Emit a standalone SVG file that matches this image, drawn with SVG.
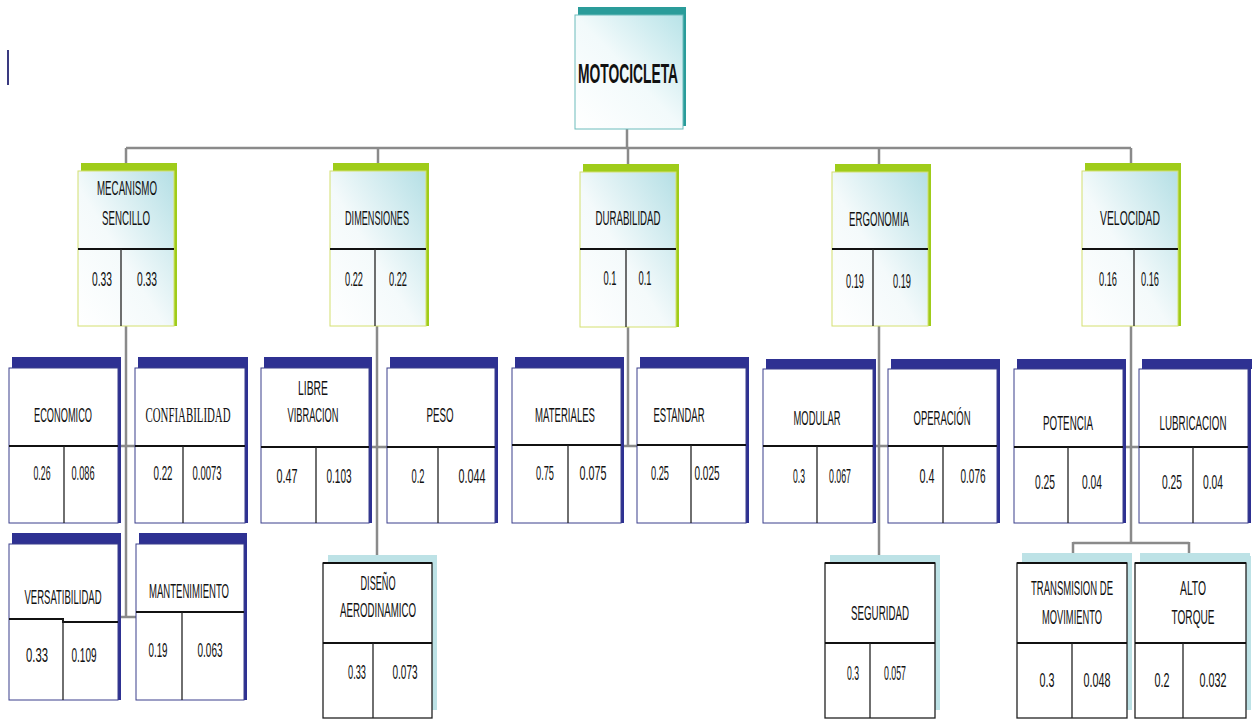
<svg xmlns="http://www.w3.org/2000/svg" width="1252" height="719" viewBox="0 0 1252 719">
<defs>
<linearGradient id="gTop" x1="0" y1="1" x2="1" y2="0">
<stop offset="0" stop-color="#ffffff"/><stop offset="0.5" stop-color="#f2fafb"/><stop offset="1" stop-color="#b8e3e8"/>
</linearGradient>
<linearGradient id="g2" x1="0" y1="1" x2="1" y2="0">
<stop offset="0" stop-color="#ffffff"/><stop offset="0.45" stop-color="#f4fafb"/><stop offset="1" stop-color="#b4dfe5"/>
</linearGradient>
<style>
.t{font-family:"Liberation Sans",Arial,sans-serif;font-size:20px;text-anchor:middle;fill:#111}
.ts{font-family:"Liberation Serif","Times New Roman",serif;font-size:20px;text-anchor:middle;fill:#111}
.tb{font-family:"Liberation Sans",Arial,sans-serif;font-size:28px;font-weight:bold;text-anchor:middle;fill:#111}
.l2{fill:url(#g2);stroke:#d4e070;stroke-width:1}
.gbar{fill:#9fcc1a}
.nbar{fill:#2e3192}
.tbar{fill:#bde2e6}
.b3{fill:#fff;stroke:#3b3f8c;stroke-width:1}
.b4{fill:#fff;stroke:#222;stroke-width:1.3}
.hd{stroke:#111;stroke-width:2;fill:none}
.vd{stroke:#222;stroke-width:1.3}
.conn{stroke:#8a8a8a;stroke-width:2.5;fill:none}
</style>
</defs>
<rect width="1252" height="719" fill="#fff"/>
<rect x="7" y="50" width="2" height="35" fill="#3a3a80"/>

<g id="connectors">
<path class="conn" d="M627 129 V148 M126 148 H1131 M126 148 V165 M378 148 V165 M628 148 V165 M879 148 V165 M1131 148 V165"/>
<path class="conn" d="M126 326 V617 M121 446 H135 M121 617 H136"/>
<path class="conn" d="M377 326 V555 M369 447 H387"/>
<path class="conn" d="M628 327 V446 M621 446 H637"/>
<path class="conn" d="M879 326 V555 M873 446 H888"/>
<path class="conn" d="M1131 326 V543 M1123 447 H1139 M1073 543 H1189 M1073 542 V555 M1189 542 V555"/>
</g>

<g id="n-motocicleta">
<rect x="578" y="7" width="108" height="9" fill="#2a9c9a"/>
<rect x="683" y="10" width="3" height="116" fill="#2a9c9a"/>
<rect x="575" y="15" width="108" height="114" fill="url(#gTop)" stroke="#6cbcbc" stroke-width="1"/>
<text class="tb" transform="translate(628 83) scale(0.55 1)" textLength="182" lengthAdjust="spacingAndGlyphs">MOTOCICLETA</text>
</g>

<!-- level 2 -->
<g id="n-mecanismo">
<rect class="gbar" x="81" y="163" width="96" height="9"/>
<rect class="gbar" x="174" y="166" width="3" height="160"/>
<rect class="l2" x="78" y="171" width="96" height="155"/>
<line class="hd" x1="78" y1="249" x2="174" y2="249"/>
<line class="vd" x1="121" y1="249" x2="121" y2="326"/>
<text class="t" transform="translate(127 195) scale(0.5 1)" textLength="120" lengthAdjust="spacingAndGlyphs">MECANISMO</text>
<text class="t" transform="translate(126 225) scale(0.5 1)" textLength="96" lengthAdjust="spacingAndGlyphs">SENCILLO</text>
<text class="t" transform="translate(102 286) scale(0.5 1)" textLength="40" lengthAdjust="spacingAndGlyphs">0.33</text>
<text class="t" transform="translate(147 286) scale(0.5 1)" textLength="40" lengthAdjust="spacingAndGlyphs">0.33</text>
</g>
<g id="n-dimensiones">
<rect class="gbar" x="333" y="163" width="96" height="9"/>
<rect class="gbar" x="426" y="166" width="3" height="160"/>
<rect class="l2" x="330" y="171" width="96" height="155"/>
<line class="hd" x1="330" y1="249" x2="426" y2="249"/>
<line class="vd" x1="375" y1="249" x2="375" y2="326"/>
<text class="t" transform="translate(377 225) scale(0.5 1)" textLength="128" lengthAdjust="spacingAndGlyphs">DIMENSIONES</text>
<text class="t" transform="translate(354 286) scale(0.5 1)" textLength="36" lengthAdjust="spacingAndGlyphs">0.22</text>
<text class="t" transform="translate(398 286) scale(0.5 1)" textLength="36" lengthAdjust="spacingAndGlyphs">0.22</text>
</g>
<g id="n-durabilidad">
<rect class="gbar" x="583" y="164" width="96" height="9"/>
<rect class="gbar" x="676" y="167" width="3" height="160"/>
<rect class="l2" x="580" y="172" width="96" height="155"/>
<line class="hd" x1="580" y1="249" x2="676" y2="249"/>
<line class="vd" x1="626" y1="249" x2="626" y2="327"/>
<text class="t" transform="translate(628 225) scale(0.5 1)" textLength="130" lengthAdjust="spacingAndGlyphs">DURABILIDAD</text>
<text class="t" transform="translate(610 285) scale(0.5 1)" textLength="26" lengthAdjust="spacingAndGlyphs">0.1</text>
<text class="t" transform="translate(645 285) scale(0.5 1)" textLength="26" lengthAdjust="spacingAndGlyphs">0.1</text>
</g>
<g id="n-ergonomia">
<rect class="gbar" x="835" y="164" width="96" height="9"/>
<rect class="gbar" x="928" y="167" width="3" height="159"/>
<rect class="l2" x="832" y="172" width="96" height="154"/>
<line class="hd" x1="832" y1="249" x2="928" y2="249"/>
<line class="vd" x1="873" y1="249" x2="873" y2="326"/>
<text class="t" transform="translate(879 226) scale(0.5 1)" textLength="120" lengthAdjust="spacingAndGlyphs">ERGONOMIA</text>
<text class="t" transform="translate(855 288) scale(0.5 1)" textLength="36" lengthAdjust="spacingAndGlyphs">0.19</text>
<text class="t" transform="translate(902 288) scale(0.5 1)" textLength="36" lengthAdjust="spacingAndGlyphs">0.19</text>
</g>
<g id="n-velocidad">
<rect class="gbar" x="1085" y="163" width="96" height="9"/>
<rect class="gbar" x="1178" y="166" width="3" height="160"/>
<rect class="l2" x="1082" y="171" width="96" height="155"/>
<line class="hd" x1="1082" y1="249" x2="1178" y2="249"/>
<line class="vd" x1="1134" y1="249" x2="1134" y2="326"/>
<text class="t" transform="translate(1130 225) scale(0.5 1)" textLength="120" lengthAdjust="spacingAndGlyphs">VELOCIDAD</text>
<text class="t" transform="translate(1108 286) scale(0.5 1)" textLength="36" lengthAdjust="spacingAndGlyphs">0.16</text>
<text class="t" transform="translate(1150 286) scale(0.5 1)" textLength="36" lengthAdjust="spacingAndGlyphs">0.16</text>
</g>

<!-- level 3 -->
<g id="n-economico">
<rect class="nbar" x="12" y="357" width="109" height="11"/>
<rect class="nbar" x="118" y="360" width="3" height="163"/>
<rect class="b3" x="9" y="368" width="109" height="155"/>
<line class="hd" x1="9" y1="446" x2="118" y2="446"/>
<line class="vd" x1="64" y1="446" x2="64" y2="523"/>
<text class="t" transform="translate(63 422) scale(0.5 1)" textLength="116" lengthAdjust="spacingAndGlyphs">ECONOMICO</text>
<text class="t" transform="translate(42 480) scale(0.5 1)" textLength="34" lengthAdjust="spacingAndGlyphs">0.26</text>
<text class="t" transform="translate(83 480) scale(0.5 1)" textLength="46" lengthAdjust="spacingAndGlyphs">0.086</text>
</g>
<g id="n-confiabilidad">
<rect class="nbar" x="138" y="357" width="110" height="11"/>
<rect class="nbar" x="245" y="360" width="3" height="163"/>
<rect class="b3" x="135" y="368" width="110" height="155"/>
<line class="hd" x1="135" y1="446" x2="245" y2="446"/>
<line class="vd" x1="183" y1="446" x2="183" y2="523"/>
<text class="ts" transform="translate(188 422) scale(0.5 1)" textLength="170" lengthAdjust="spacingAndGlyphs">CONFIABILIDAD</text>
<text class="t" transform="translate(163 480) scale(0.5 1)" textLength="38" lengthAdjust="spacingAndGlyphs">0.22</text>
<text class="t" transform="translate(207 480) scale(0.5 1)" textLength="58" lengthAdjust="spacingAndGlyphs">0.0073</text>
</g>
<g id="n-libre">
<rect class="nbar" x="264" y="357" width="108" height="11"/>
<rect class="nbar" x="369" y="360" width="3" height="163"/>
<rect class="b3" x="261" y="368" width="108" height="155"/>
<line class="hd" x1="261" y1="447" x2="369" y2="447"/>
<line class="vd" x1="316" y1="447" x2="316" y2="523"/>
<text class="t" transform="translate(313 395) scale(0.5 1)" textLength="60" lengthAdjust="spacingAndGlyphs">LIBRE</text>
<text class="t" transform="translate(313 422) scale(0.5 1)" textLength="102" lengthAdjust="spacingAndGlyphs">VIBRACION</text>
<text class="t" transform="translate(287 483) scale(0.5 1)" textLength="42" lengthAdjust="spacingAndGlyphs">0.47</text>
<text class="t" transform="translate(339 483) scale(0.5 1)" textLength="50" lengthAdjust="spacingAndGlyphs">0.103</text>
</g>
<g id="n-peso">
<rect class="nbar" x="390" y="357" width="108" height="11"/>
<rect class="nbar" x="495" y="360" width="3" height="163"/>
<rect class="b3" x="387" y="368" width="108" height="155"/>
<line class="hd" x1="387" y1="447" x2="495" y2="447"/>
<line class="vd" x1="438" y1="447" x2="438" y2="523"/>
<text class="t" transform="translate(440 422) scale(0.5 1)" textLength="54" lengthAdjust="spacingAndGlyphs">PESO</text>
<text class="t" transform="translate(418 483) scale(0.5 1)" textLength="26" lengthAdjust="spacingAndGlyphs">0.2</text>
<text class="t" transform="translate(472 483) scale(0.5 1)" textLength="54" lengthAdjust="spacingAndGlyphs">0.044</text>
</g>
<g id="n-materiales">
<rect class="nbar" x="515" y="357" width="109" height="11"/>
<rect class="nbar" x="621" y="360" width="3" height="163"/>
<rect class="b3" x="512" y="368" width="109" height="155"/>
<line class="hd" x1="512" y1="445" x2="621" y2="445"/>
<line class="vd" x1="568" y1="445" x2="568" y2="523"/>
<text class="t" transform="translate(565 422) scale(0.5 1)" textLength="120" lengthAdjust="spacingAndGlyphs">MATERIALES</text>
<text class="t" transform="translate(545 480) scale(0.5 1)" textLength="36" lengthAdjust="spacingAndGlyphs">0.75</text>
<text class="t" transform="translate(593 480) scale(0.5 1)" textLength="54" lengthAdjust="spacingAndGlyphs">0.075</text>
</g>
<g id="n-estandar">
<rect class="nbar" x="640" y="357" width="109" height="11"/>
<rect class="nbar" x="746" y="360" width="3" height="163"/>
<rect class="b3" x="637" y="368" width="109" height="155"/>
<line class="hd" x1="637" y1="445" x2="746" y2="445"/>
<line class="vd" x1="691" y1="445" x2="691" y2="523"/>
<text class="t" transform="translate(679 422) scale(0.5 1)" textLength="102" lengthAdjust="spacingAndGlyphs">ESTANDAR</text>
<text class="t" transform="translate(660 480) scale(0.5 1)" textLength="36" lengthAdjust="spacingAndGlyphs">0.25</text>
<text class="t" transform="translate(707 480) scale(0.5 1)" textLength="50" lengthAdjust="spacingAndGlyphs">0.025</text>
</g>
<g id="n-modular">
<rect class="nbar" x="766" y="359" width="110" height="10"/>
<rect class="nbar" x="873" y="362" width="3" height="161"/>
<rect class="b3" x="763" y="369" width="110" height="154"/>
<line class="hd" x1="763" y1="446" x2="873" y2="446"/>
<line class="vd" x1="817" y1="446" x2="817" y2="523"/>
<text class="t" transform="translate(817 425) scale(0.5 1)" textLength="94" lengthAdjust="spacingAndGlyphs">MODULAR</text>
<text class="t" transform="translate(799 483) scale(0.5 1)" textLength="24" lengthAdjust="spacingAndGlyphs">0.3</text>
<text class="t" transform="translate(840 483) scale(0.5 1)" textLength="44" lengthAdjust="spacingAndGlyphs">0.067</text>
</g>
<g id="n-operacion">
<rect class="nbar" x="891" y="359" width="109" height="10"/>
<rect class="nbar" x="997" y="362" width="3" height="161"/>
<rect class="b3" x="888" y="369" width="109" height="154"/>
<line class="hd" x1="888" y1="446" x2="997" y2="446"/>
<line class="vd" x1="943" y1="446" x2="943" y2="523"/>
<text class="t" transform="translate(942 425) scale(0.5 1)" textLength="114" lengthAdjust="spacingAndGlyphs">OPERACIÓN</text>
<text class="t" transform="translate(927 483) scale(0.5 1)" textLength="30" lengthAdjust="spacingAndGlyphs">0.4</text>
<text class="t" transform="translate(973 483) scale(0.5 1)" textLength="50" lengthAdjust="spacingAndGlyphs">0.076</text>
</g>
<g id="n-potencia">
<rect class="nbar" x="1017" y="359" width="109" height="10"/>
<rect class="nbar" x="1123" y="362" width="3" height="161"/>
<rect class="b3" x="1014" y="369" width="109" height="154"/>
<line class="hd" x1="1014" y1="447" x2="1123" y2="447"/>
<line class="vd" x1="1068" y1="447" x2="1068" y2="523"/>
<text class="t" transform="translate(1068 430) scale(0.5 1)" textLength="100" lengthAdjust="spacingAndGlyphs">POTENCIA</text>
<text class="t" transform="translate(1045 489) scale(0.5 1)" textLength="40" lengthAdjust="spacingAndGlyphs">0.25</text>
<text class="t" transform="translate(1092 489) scale(0.5 1)" textLength="40" lengthAdjust="spacingAndGlyphs">0.04</text>
</g>
<g id="n-lubricacion">
<rect class="nbar" x="1142" y="359" width="110" height="10"/>
<rect class="nbar" x="1248" y="362" width="3" height="161"/>
<rect class="b3" x="1139" y="369" width="109" height="154"/>
<line class="hd" x1="1139" y1="447" x2="1248" y2="447"/>
<line class="vd" x1="1193" y1="447" x2="1193" y2="523"/>
<text class="t" transform="translate(1193 430) scale(0.5 1)" textLength="134" lengthAdjust="spacingAndGlyphs">LUBRICACION</text>
<text class="t" transform="translate(1172 489) scale(0.5 1)" textLength="40" lengthAdjust="spacingAndGlyphs">0.25</text>
<text class="t" transform="translate(1213 489) scale(0.5 1)" textLength="40" lengthAdjust="spacingAndGlyphs">0.04</text>
</g>

<!-- level 4 -->
<g id="n-versatibilidad">
<rect class="nbar" x="12" y="533" width="109" height="11"/>
<rect class="nbar" x="118" y="536" width="3" height="164"/>
<rect class="b3" x="9" y="544" width="109" height="156"/>
<path class="hd" d="M9 619 H63 V622 H118"/>
<line class="vd" x1="63" y1="619" x2="63" y2="700"/>
<text class="t" transform="translate(63 604) scale(0.5 1)" textLength="154" lengthAdjust="spacingAndGlyphs">VERSATIBILIDAD</text>
<text class="t" transform="translate(37 662) scale(0.5 1)" textLength="44" lengthAdjust="spacingAndGlyphs">0.33</text>
<text class="t" transform="translate(84 662) scale(0.5 1)" textLength="50" lengthAdjust="spacingAndGlyphs">0.109</text>
</g>
<g id="n-mantenimiento">
<rect class="nbar" x="139" y="533" width="108" height="11"/>
<rect class="nbar" x="244" y="536" width="3" height="164"/>
<rect class="b3" x="136" y="544" width="108" height="156"/>
<line class="hd" x1="136" y1="612" x2="244" y2="612"/>
<line class="vd" x1="182" y1="612" x2="182" y2="700"/>
<text class="t" transform="translate(189 598) scale(0.5 1)" textLength="160" lengthAdjust="spacingAndGlyphs">MANTENIMIENTO</text>
<text class="t" transform="translate(158 657) scale(0.5 1)" textLength="38" lengthAdjust="spacingAndGlyphs">0.19</text>
<text class="t" transform="translate(210 657) scale(0.5 1)" textLength="50" lengthAdjust="spacingAndGlyphs">0.063</text>
</g>
<g id="n-diseno">
<rect class="tbar" x="328" y="555" width="109" height="8"/>
<rect class="tbar" x="432" y="558" width="5" height="152"/>
<rect class="b4" x="323" y="563" width="109" height="155"/>
<line class="hd" x1="323" y1="563" x2="432" y2="563"/>
<line class="hd" x1="323" y1="643" x2="432" y2="643"/>
<line class="vd" x1="373" y1="643" x2="373" y2="718"/>
<text class="t" transform="translate(378 590) scale(0.5 1)" textLength="70" lengthAdjust="spacingAndGlyphs">DISEÑO</text>
<text class="t" transform="translate(378 617) scale(0.5 1)" textLength="152" lengthAdjust="spacingAndGlyphs">AERODINAMICO</text>
<text class="t" transform="translate(357 679) scale(0.5 1)" textLength="36" lengthAdjust="spacingAndGlyphs">0.33</text>
<text class="t" transform="translate(405 679) scale(0.5 1)" textLength="50" lengthAdjust="spacingAndGlyphs">0.073</text>
</g>
<g id="n-seguridad">
<rect class="tbar" x="830" y="555" width="110" height="8"/>
<rect class="tbar" x="935" y="558" width="5" height="152"/>
<rect class="b4" x="825" y="563" width="110" height="155"/>
<line class="hd" x1="825" y1="563" x2="935" y2="563"/>
<line class="hd" x1="825" y1="643" x2="935" y2="643"/>
<line class="vd" x1="870" y1="643" x2="870" y2="718"/>
<text class="t" transform="translate(880 620) scale(0.5 1)" textLength="116" lengthAdjust="spacingAndGlyphs">SEGURIDAD</text>
<text class="t" transform="translate(853 680) scale(0.5 1)" textLength="24" lengthAdjust="spacingAndGlyphs">0.3</text>
<text class="t" transform="translate(895 680) scale(0.5 1)" textLength="44" lengthAdjust="spacingAndGlyphs">0.057</text>
</g>
<g id="n-transmision">
<rect class="tbar" x="1022" y="553" width="110" height="10"/>
<rect class="tbar" x="1127" y="556" width="5" height="154"/>
<rect class="b4" x="1017" y="563" width="110" height="155"/>
<line class="hd" x1="1017" y1="563" x2="1127" y2="563"/>
<line class="hd" x1="1017" y1="643" x2="1127" y2="643"/>
<line class="vd" x1="1072" y1="643" x2="1072" y2="718"/>
<text class="t" transform="translate(1072 595) scale(0.5 1)" textLength="164" lengthAdjust="spacingAndGlyphs">TRANSMISION DE</text>
<text class="t" transform="translate(1072 624) scale(0.5 1)" textLength="120" lengthAdjust="spacingAndGlyphs">MOVIMIENTO</text>
<text class="t" transform="translate(1047 687) scale(0.5 1)" textLength="30" lengthAdjust="spacingAndGlyphs">0.3</text>
<text class="t" transform="translate(1097 687) scale(0.5 1)" textLength="54" lengthAdjust="spacingAndGlyphs">0.048</text>
</g>
<g id="n-alto">
<rect class="tbar" x="1140" y="553" width="110" height="10"/>
<rect class="tbar" x="1246" y="556" width="5" height="154"/>
<rect class="b4" x="1135" y="563" width="111" height="155"/>
<line class="hd" x1="1135" y1="563" x2="1246" y2="563"/>
<line class="hd" x1="1135" y1="643" x2="1246" y2="643"/>
<line class="vd" x1="1183" y1="643" x2="1183" y2="718"/>
<text class="t" transform="translate(1193 595) scale(0.5 1)" textLength="52" lengthAdjust="spacingAndGlyphs">ALTO</text>
<text class="t" transform="translate(1193 624) scale(0.5 1)" textLength="86" lengthAdjust="spacingAndGlyphs">TORQUE</text>
<text class="t" transform="translate(1162 687) scale(0.5 1)" textLength="30" lengthAdjust="spacingAndGlyphs">0.2</text>
<text class="t" transform="translate(1213 687) scale(0.5 1)" textLength="54" lengthAdjust="spacingAndGlyphs">0.032</text>
</g>
</svg>
